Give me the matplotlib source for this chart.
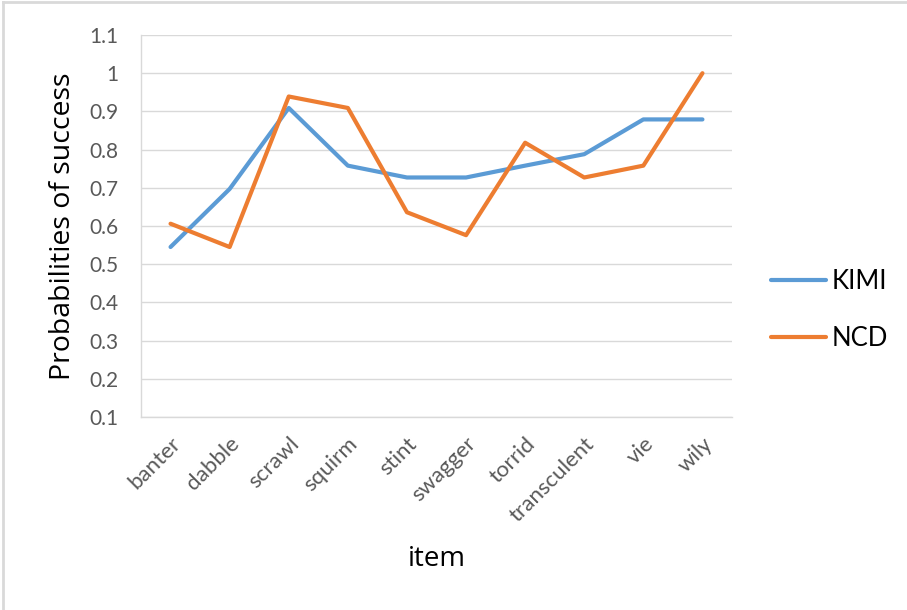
import matplotlib
matplotlib.use("Agg")
import matplotlib.pyplot as plt
from matplotlib.lines import Line2D

items = ["banter", "dabble", "scrawl", "squirm", "stint", "swagger",
         "torrid", "transculent", "vie", "wily"]
kimi = [0.545, 0.697, 0.909, 0.758, 0.727, 0.727, 0.758, 0.788, 0.879, 0.879]
ncd = [0.606, 0.545, 0.939, 0.909, 0.636, 0.576, 0.818, 0.727, 0.758, 1.0]
yticks = [0.1, 0.2, 0.3, 0.4, 0.5, 0.6, 0.7, 0.8, 0.9, 1.0, 1.1]
ytick_labels = ["0.1", "0.2", "0.3", "0.4", "0.5", "0.6", "0.7", "0.8", "0.9", "1", "1.1"]

blue = "#5B9BD5"
orange = "#ED7D31"
grid_col = "#D9D9D9"
tick_col = "#595959"

fig = plt.figure(figsize=(9.07, 6.10), dpi=100)
ax = fig.add_axes([141 / 907, 1 - 417 / 610, 591 / 907, 382 / 610])

x = list(range(len(items)))
ax.plot(x, kimi, color=blue, lw=3, solid_capstyle="round", label="KIMI")
ax.plot(x, ncd, color=orange, lw=3, solid_capstyle="round", label="NCD")

ax.set_xlim(-0.5, len(items) - 0.5)
ax.set_ylim(0.1, 1.1)
ax.set_yticks(yticks)
ax.set_yticklabels(ytick_labels, fontfamily="Lato", fontsize=15, color=tick_col)
ax.set_xticks(x)
ax.set_xticklabels(items, fontfamily="Lato", fontsize=16, color=tick_col,
                   rotation=45, ha="right", va="top", rotation_mode="anchor")
ax.tick_params(axis="y", length=0, pad=16.5)
ax.tick_params(axis="x", length=0, pad=12)

ax.grid(axis="y", color=grid_col, lw=1)
ax.set_axisbelow(True)
for side in ["top", "right"]:
    ax.spines[side].set_visible(False)
for side in ["left", "bottom"]:
    ax.spines[side].set_color(grid_col)
    ax.spines[side].set_linewidth(1)

ax.set_ylabel("Probabilities of success", fontfamily="Open Sans", fontsize=20.5, color="black")
ax.yaxis.set_label_coords(-0.132, 0.5)
ax.yaxis.label.set_va("center")
ax.set_xlabel("item", fontfamily="Open Sans", fontsize=20, color="black")
ax.xaxis.set_label_coords(0.5, -0.335)

leg = ax.legend(loc="center left", bbox_to_anchor=(771 / 907, 1 - 310 / 610),
                bbox_transform=fig.transFigure, frameon=False, borderpad=0,
                borderaxespad=0, handlelength=2.15, handletextpad=0.2,
                labelspacing=1.25, prop={"family": "Lato", "size": 18.5})

# chart border (only top and left edges are visible in the crop)
fig.add_artist(Line2D([3 / 907, 1], [1 - 2 / 610, 1 - 2 / 610], color=grid_col, lw=2))
fig.add_artist(Line2D([3 / 907, 3 / 907], [0, 1 - 2 / 610], color=grid_col, lw=2))

fig.savefig("out.png", dpi=100)
